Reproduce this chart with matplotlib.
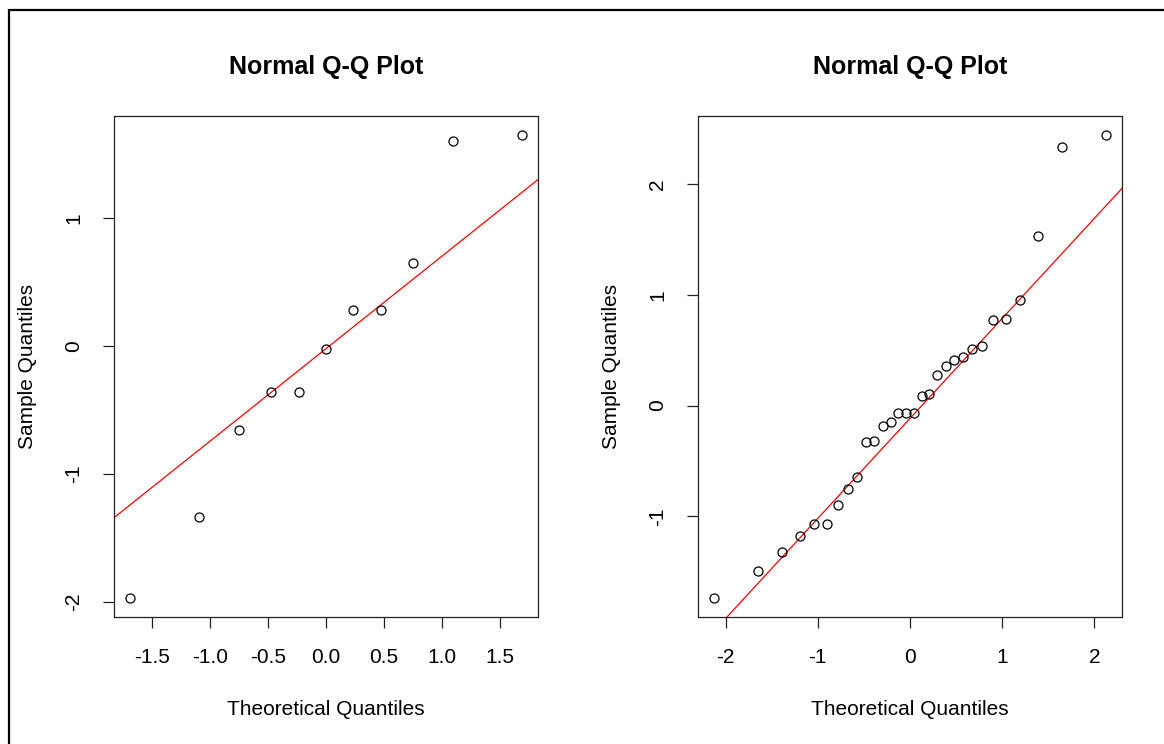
import numpy as np
import matplotlib.pyplot as plt
from matplotlib.patches import Rectangle

plt.rcParams['font.family'] = ['Liberation Sans', 'DejaVu Sans']
plt.rcParams['axes.unicode_minus'] = False

# left panel, n = 11
theo_a = [-1.691, -1.097, -0.748, -0.473, -0.230, 0.0, 0.230, 0.473, 0.748, 1.097, 1.691]
samp_a = [-1.976, -1.342, -0.657, -0.362, -0.362, -0.022, 0.284, 0.284, 0.652, 1.603, 1.655]
xticks_a = [-1.5, -1.0, -0.5, 0.0, 0.5, 1.0, 1.5]
yticks_a = [-2, -1, 0, 1]

# right panel, n = 30
theo_b = [-2.128, -1.645, -1.383, -1.192, -1.036, -0.903, -0.783, -0.674, -0.573, -0.477,
          -0.385, -0.297, -0.210, -0.126, -0.042, 0.042, 0.126, 0.210, 0.297, 0.385,
          0.477, 0.573, 0.674, 0.783, 0.903, 1.036, 1.192, 1.383, 1.645, 2.128]
samp_b = [-1.742, -1.498, -1.326, -1.181, -1.073, -1.073, -0.901, -0.753, -0.645, -0.329,
          -0.316, -0.184, -0.148, -0.063, -0.063, -0.063, 0.084, 0.108, 0.280, 0.353,
          0.413, 0.437, 0.512, 0.536, 0.769, 0.781, 0.949, 1.534, 2.339, 2.447]
xticks_b = [-2, -1, 0, 1, 2]
yticks_b = [-1, 0, 1, 2]

Z75 = 0.6745  # normal quartile


def r_lim(v):
    lo, hi = min(v), max(v)
    d = (hi - lo) * 0.04
    return lo - d, hi + d


def qq_panel(ax, x, y, xt, yt, fmt):
    ax.plot(x, y, 'o', mfc='none', mec='black', ms=6.5, mew=0.9, zorder=3)
    q1, q3 = np.quantile(y, [0.25, 0.75])
    slope = (q3 - q1) / (2 * Z75)
    icpt = q1 + slope * Z75
    ax.axline((0, icpt), slope=slope, color='red', lw=0.9)
    ax.set_xlim(r_lim(x))
    ax.set_ylim(r_lim(y))
    ax.set_xticks(xt)
    ax.set_xticklabels([fmt.format(t) for t in xt])
    ax.set_yticks(yt)
    ax.set_yticklabels([str(t) for t in yt])
    ax.tick_params(length=8, width=0.9, labelsize=15, color='#222222')
    ax.tick_params(axis='x', pad=14.5)
    ax.tick_params(axis='y', pad=14, labelrotation=90)
    for lab in ax.get_yticklabels():
        lab.set_va('center')
    for s in ax.spines.values():
        s.set_linewidth(0.9)
        s.set_color('#222222')
    ax.set_title('Normal Q-Q Plot', fontsize=18, fontweight='bold', pad=30)
    ax.set_xlabel('Theoretical Quantiles', fontsize=15)
    ax.set_ylabel('Sample Quantiles', fontsize=15)
    ax.xaxis.set_label_coords(0.5, -0.185)
    ax.xaxis.label.set_va('center')
    ax.yaxis.set_label_coords(-0.205, 0.5)
    ax.yaxis.label.set_va('center')


fig = plt.figure(figsize=(11.64, 7.44), dpi=100)
ax1 = fig.add_axes([114 / 1164, 1 - 617 / 744, 424 / 1164, 501 / 744])
ax2 = fig.add_axes([698 / 1164, 1 - 617 / 744, 424 / 1164, 501 / 744])

qq_panel(ax1, theo_a, samp_a, xticks_a, yticks_a, '{:.1f}')
qq_panel(ax2, theo_b, samp_b, xticks_b, yticks_b, '{:d}')

# outer frame, runs off the right and bottom edges
fig.patches.append(Rectangle((9 / 1164, -0.1), 1.2, 0.1 + 1 - 10 / 744,
                             transform=fig.transFigure, fill=False,
                             edgecolor='black', lw=1.6))

fig.savefig('out.png', dpi=100)
